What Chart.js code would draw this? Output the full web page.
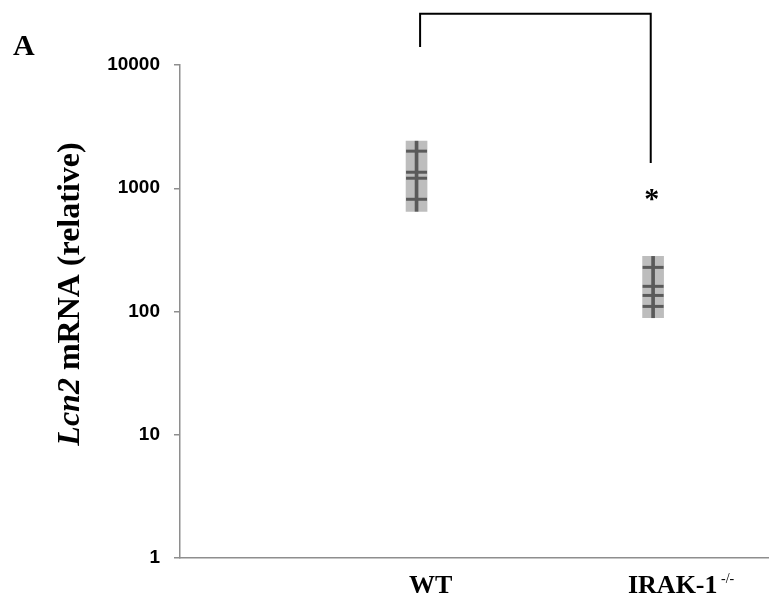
<!DOCTYPE html>
<html>
<head>
<meta charset="utf-8">
<script src="https://cdn.jsdelivr.net/npm/chart.js@4"></script>
<style>
  html,body{margin:0;padding:0;background:#fff;overflow:hidden;}
  #wrap{width:769px;height:599px;position:relative;}
  canvas{display:block;}
</style>
</head>
<body>
<div id="wrap"><canvas id="lcnChart"></canvas></div>
<script>
// grupos y posiciones en el eje x
const grupos = ['WT', 'IRAK-1'];
const gruposSup = ['', '-/-'];
const posX = [1, 2];

// rango de cada caja (min, max)
const cajaMin = [650, 89];
const cajaMax = [2410, 280];

// valores individuales (marcas +)
const puntosWT = [2000, 1349, 1206, 814];
const puntosIRAK = [228, 160, 135, 110];

// marcas del eje y
const ticksY = [1, 10, 100, 1000, 10000];
const ticksYLabels = ['1', '10', '100', '1000', '10000'];

// corchete de significancia
const corcheteX = [1.015, 1.99];
const corcheteY = [14000, 26000, 1600];
const asteriscoY = 900;

const cajas = posX.map((x, i) => ({x: x, y: [cajaMin[i], cajaMax[i]]}));
const puntos = [
  ...puntosWT.map(v => ({x: posX[0], y: v})),
  ...puntosIRAK.map(v => ({x: posX[1], y: v}))
];

const extras = {
  id: 'extras',
  afterDraw(chart) {
    const ctx = chart.ctx;
    const xs = chart.scales.x, ys = chart.scales.y;
    ctx.save();

    // etiqueta A
    ctx.fillStyle = '#000';
    ctx.font = 'bold 30px "Liberation Serif"';
    ctx.textBaseline = 'alphabetic';
    ctx.textAlign = 'left';
    ctx.fillText('A', 13, 55);

    // corchete
    const xl = xs.getPixelForValue(corcheteX[0]);
    const xr = xs.getPixelForValue(corcheteX[1]);
    const yTop = ys.getPixelForValue(corcheteY[1]);
    ctx.strokeStyle = '#000';
    ctx.lineWidth = 2;
    ctx.beginPath();
    ctx.moveTo(xl, ys.getPixelForValue(corcheteY[0]));
    ctx.lineTo(xl, yTop);
    ctx.lineTo(xr, yTop);
    ctx.lineTo(xr, ys.getPixelForValue(corcheteY[2]));
    ctx.stroke();

    // asterisco
    ctx.font = 'bold 30px "Liberation Serif"';
    ctx.textAlign = 'center';
    ctx.textBaseline = 'middle';
    ctx.fillText('*', xr + 1, ys.getPixelForValue(asteriscoY) + 6);

    // etiquetas eje x con superindice
    const offs = [14, 28];
    ctx.textBaseline = 'alphabetic';
    grupos.forEach((g, i) => {
      ctx.font = 'bold 26px "Liberation Serif"';
      const wMain = ctx.measureText(g).width;
      ctx.font = '14px "Liberation Serif"';
      const sup = gruposSup[i] ? ' ' + gruposSup[i] : '';
      const wSup = sup ? ctx.measureText(sup).width : 0;
      const cx = xs.getPixelForValue(posX[i]) + offs[i];
      const x0 = cx - (wMain + wSup) / 2;
      ctx.textAlign = 'left';
      ctx.font = 'bold 26px "Liberation Serif"';
      ctx.fillText(g, x0, 593);
      if (sup) {
        ctx.font = '14px "Liberation Serif"';
        ctx.fillText(sup, x0 + wMain, 583);
      }
    });

    // titulo eje y
    ctx.translate(79, 294);
    ctx.rotate(-Math.PI / 2);
    const partes = [
      {t: 'Lcn2', f: 'italic bold 32px "Liberation Serif"'},
      {t: ' mRNA (relative)', f: 'bold 32px "Liberation Serif"'}
    ];
    let total = 0;
    partes.forEach(p => { ctx.font = p.f; total += ctx.measureText(p.t).width; });
    let px = -total / 2;
    partes.forEach(p => {
      ctx.font = p.f;
      ctx.fillText(p.t, px, 0);
      px += ctx.measureText(p.t).width;
    });
    ctx.restore();
  }
};

new Chart(document.getElementById('lcnChart'), {
  type: 'bar',
  data: {
    datasets: [
      {
        type: 'scatter',
        data: puntos,
        pointStyle: 'line',
        radius: 10.5,
        borderWidth: 3,
        borderColor: '#5a5a5a',
        order: 0
      },
      {
        data: cajas,
        backgroundColor: '#5a5a5a',
        barThickness: 3,
        grouped: false,
        order: 1
      },
      {
        data: cajas,
        backgroundColor: '#bdbdbd',
        barThickness: 21,
        grouped: false,
        order: 2
      }
    ]
  },
  options: {
    responsive: true,
    maintainAspectRatio: false,
    animation: false,
    layout: {autoPadding: false, padding: {top: 65, right: 0, bottom: 41, left: 0}},
    plugins: {legend: {display: false}, tooltip: {enabled: false}},
    scales: {
      x: {
        type: 'linear',
        min: 0,
        max: 2.49,
        offset: false,
        grid: {display: false},
        border: {display: true, color: '#8e8e8e', width: 1.5},
        ticks: {display: false},
        afterFit: s => { s.height = 0; s.paddingRight = 0; s.paddingLeft = 0; }
      },
      y: {
        type: 'logarithmic',
        min: 1,
        max: 10000,
        afterBuildTicks: s => { s.ticks = ticksY.map(v => ({value: v})); },
        afterFit: s => { s.width = 180; s.paddingTop = 0; s.paddingBottom = 0; },
        grid: {drawOnChartArea: false, drawTicks: true, tickLength: 6, color: '#8e8e8e', lineWidth: 1.5},
        border: {display: true, color: '#8e8e8e', width: 1.5},
        ticks: {
          padding: 14,
          color: '#000',
          font: {family: '"Liberation Sans"', size: 19, weight: 'bold'},
          callback: (v, i) => ticksYLabels[i]
        }
      }
    }
  },
  plugins: [extras]
});
</script>
</body>
</html>
